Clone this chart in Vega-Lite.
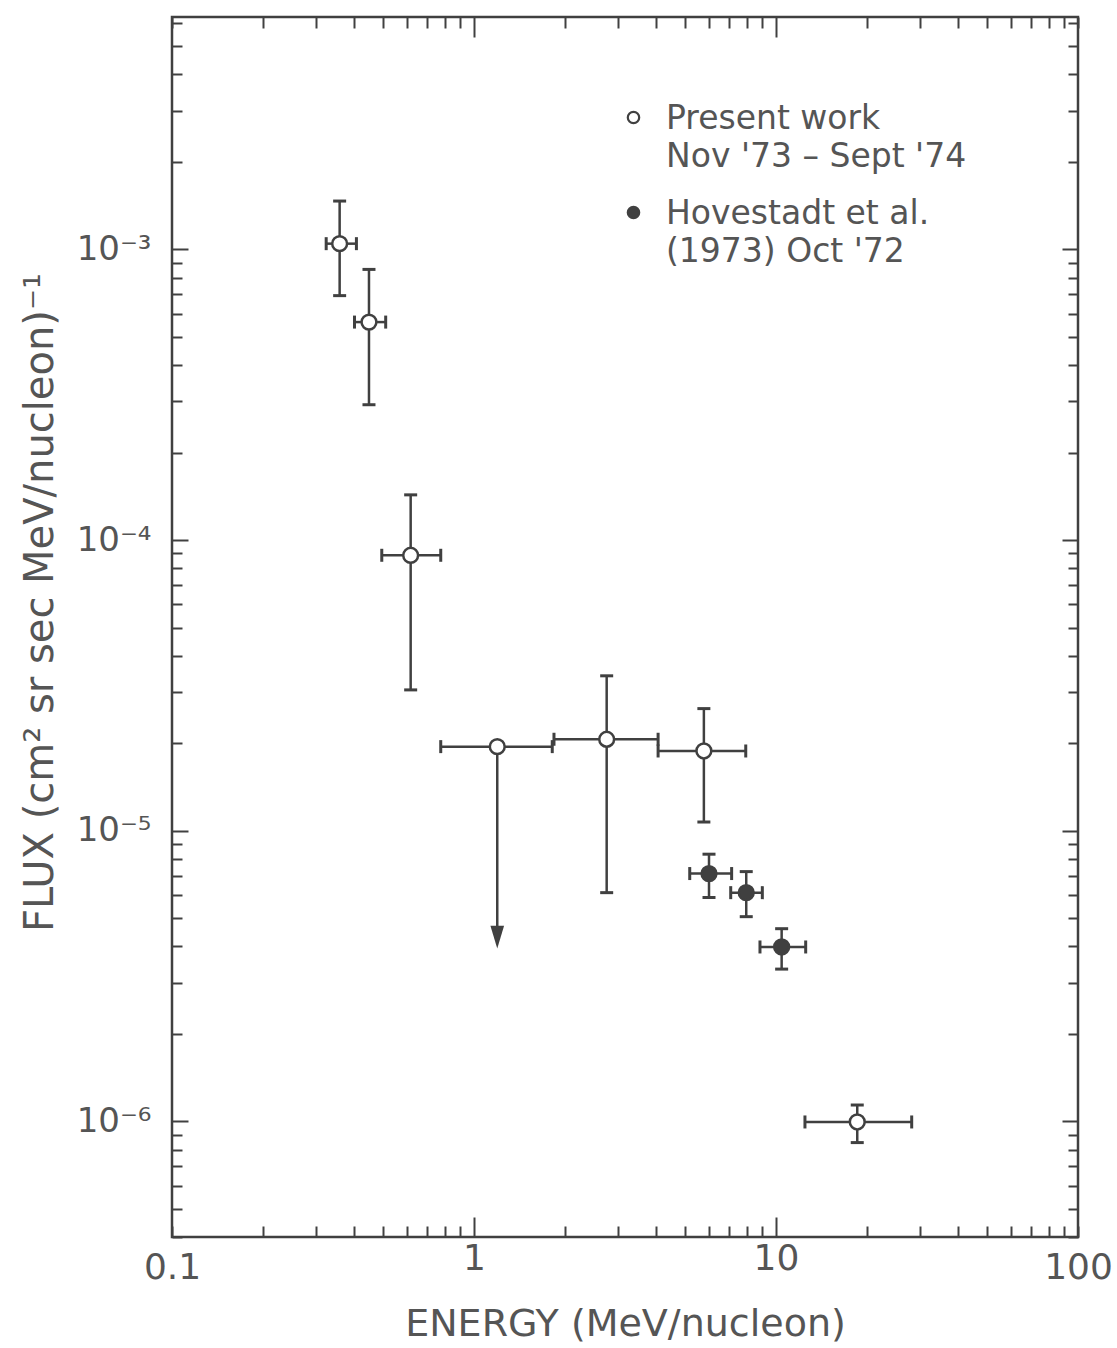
{
  "$schema": "https://vega.github.io/schema/vega-lite/v6.json",
  "width": 906,
  "height": 1220,
  "autosize": {"type": "none"},
  "padding": {"left": 172, "top": 17, "right": 39, "bottom": 111},
  "background": "white",
  "data": {
    "values": [
      {"series": "Present work", "e": 0.359, "elo": 0.324, "ehi": 0.408, "f": 0.001046, "flo": 0.000693, "fhi": 0.001466, "upperLimit": false},
      {"series": "Present work", "e": 0.449, "elo": 0.402, "ehi": 0.51, "f": 0.000562, "flo": 0.000292, "fhi": 0.000853, "upperLimit": false},
      {"series": "Present work", "e": 0.617, "elo": 0.495, "ehi": 0.776, "f": 0.0000886, "flo": 0.0000305, "fhi": 0.000143, "upperLimit": false},
      {"series": "Present work", "e": 1.194, "elo": 0.776, "ehi": 1.816, "f": 0.00001946, "flo": 0.0000043, "fhi": 0.00001946, "upperLimit": true},
      {"series": "Present work", "e": 2.75, "elo": 1.84, "ehi": 4.07, "f": 0.00002063, "flo": 0.00000612, "fhi": 0.0000341, "upperLimit": false},
      {"series": "Present work", "e": 5.77, "elo": 4.07, "ehi": 7.94, "f": 0.0000188, "flo": 0.00001071, "fhi": 0.0000263, "upperLimit": false},
      {"series": "Present work", "e": 18.58, "elo": 12.47, "ehi": 28.14, "f": 0.000000995, "flo": 0.000000845, "fhi": 0.000001138, "upperLimit": false},
      {"series": "Hovestadt et al.", "e": 6.0, "elo": 5.18, "ehi": 7.13, "f": 0.00000712, "flo": 0.00000589, "fhi": 0.0000083, "upperLimit": false},
      {"series": "Hovestadt et al.", "e": 7.97, "elo": 7.08, "ehi": 9.01, "f": 0.00000612, "flo": 0.00000506, "fhi": 0.00000723, "upperLimit": false},
      {"series": "Hovestadt et al.", "e": 10.44, "elo": 8.85, "ehi": 12.54, "f": 0.00000398, "flo": 0.00000334, "fhi": 0.0000046, "upperLimit": false}
    ]
  },
  "layer": [
    {
      "mark": {"type": "rule", "color": "#404040", "strokeWidth": 2.5},
      "encoding": {
        "x": {
          "field": "e", "type": "quantitative",
          "scale": {"type": "log", "domain": [0.1, 100], "nice": false, "zero": false},
          "axis": {
            "orient": "bottom",
            "values": [0.1,0.2,0.3,0.4,0.5,0.6,0.7,0.8,0.9,1,2,3,4,5,6,7,8,9,10,20,30,40,50,60,70,80,90,100],
            "tickSize": {"condition": {"test": "datum.value == 1 || datum.value == 10", "value": -20}, "value": -11},
            "labelExpr": "datum.value == 0.1 ? '0.1' : datum.value == 1 ? '1' : datum.value == 10 ? '10' : datum.value == 100 ? '100' : ''",
            "labelPadding": 39,
            "labelFontSize": 36,
            "labelOverlap": false,
            "labelFlush": false,
            "title": "ENERGY (MeV/nucleon)",
            "titleFontSize": 38,
            "titlePadding": 20
          }
        },
        "y": {
          "field": "flo", "type": "quantitative",
          "scale": {"type": "log", "domain": [0.0000004, 0.0063], "nice": false, "zero": false},
          "axis": {
            "orient": "left",
            "values": [0.0000004,0.0000005,0.0000006,0.0000007,0.0000008,0.0000009,0.000001,0.000002,0.000003,0.000004,0.000005,0.000006,0.000007,0.000008,0.000009,0.00001,0.00002,0.00003,0.00004,0.00005,0.00006,0.00007,0.00008,0.00009,0.0001,0.0002,0.0003,0.0004,0.0005,0.0006,0.0007,0.0008,0.0009,0.001,0.002,0.003,0.004,0.005,0.006],
            "tickSize": {"condition": {"test": "datum.value == 0.000001 || datum.value == 0.00001 || datum.value == 0.0001 || datum.value == 0.001", "value": -16}, "value": -10},
            "labelExpr": "datum.value == 0.000001 ? '10⁻⁶' : datum.value == 0.00001 ? '10⁻⁵' : datum.value == 0.0001 ? '10⁻⁴' : datum.value == 0.001 ? '10⁻³' : ''",
            "labelPadding": 37,
            "labelOffset": 15,
            "labelFontSize": 34,
            "labelOverlap": false,
            "labelFlush": false,
            "title": "FLUX (cm² sr sec MeV/nucleon)⁻¹",
            "titleFontSize": 40,
            "titlePadding": 16,
            "titleY": 585
          }
        },
        "y2": {"field": "fhi"}
      }
    },
    {
      "mark": {"type": "rule", "color": "#404040", "strokeWidth": 2.5},
      "encoding": {
        "x": {
          "field": "elo", "type": "quantitative",
          "axis": {
            "orient": "top",
            "values": [0.1,0.2,0.3,0.4,0.5,0.6,0.7,0.8,0.9,1,2,3,4,5,6,7,8,9,10,20,30,40,50,60,70,80,90,100],
            "tickSize": {"condition": {"test": "datum.value == 1 || datum.value == 10", "value": -20}, "value": -11},
            "labels": false,
            "title": null
          }
        },
        "x2": {"field": "ehi"},
        "y": {
          "field": "f", "type": "quantitative",
          "axis": {
            "orient": "right",
            "values": [0.0000004,0.0000005,0.0000006,0.0000007,0.0000008,0.0000009,0.000001,0.000002,0.000003,0.000004,0.000005,0.000006,0.000007,0.000008,0.000009,0.00001,0.00002,0.00003,0.00004,0.00005,0.00006,0.00007,0.00008,0.00009,0.0001,0.0002,0.0003,0.0004,0.0005,0.0006,0.0007,0.0008,0.0009,0.001,0.002,0.003,0.004,0.005,0.006],
            "tickSize": {"condition": {"test": "datum.value == 0.000001 || datum.value == 0.00001 || datum.value == 0.0001 || datum.value == 0.001", "value": -16}, "value": -10},
            "labels": false,
            "title": null
          }
        }
      }
    },
    {
      "transform": [{"filter": "!datum.upperLimit"}],
      "mark": {"type": "tick", "orient": "horizontal", "color": "#404040", "thickness": 3, "size": 13, "opacity": 1},
      "encoding": {
        "x": {"field": "e", "type": "quantitative", "axis": null},
        "y": {"field": "flo", "type": "quantitative", "axis": null}
      }
    },
    {
      "transform": [{"filter": "!datum.upperLimit"}],
      "mark": {"type": "tick", "orient": "horizontal", "color": "#404040", "thickness": 3, "size": 13, "opacity": 1},
      "encoding": {
        "x": {"field": "e", "type": "quantitative", "axis": null},
        "y": {"field": "fhi", "type": "quantitative", "axis": null}
      }
    },
    {
      "mark": {"type": "tick", "orient": "vertical", "color": "#404040", "thickness": 3, "size": 13, "opacity": 1},
      "encoding": {
        "x": {"field": "elo", "type": "quantitative", "axis": null},
        "y": {"field": "f", "type": "quantitative", "axis": null}
      }
    },
    {
      "mark": {"type": "tick", "orient": "vertical", "color": "#404040", "thickness": 3, "size": 13, "opacity": 1},
      "encoding": {
        "x": {"field": "ehi", "type": "quantitative", "axis": null},
        "y": {"field": "f", "type": "quantitative", "axis": null}
      }
    },
    {
      "transform": [{"filter": "datum.upperLimit"}],
      "mark": {"type": "point", "shape": "M-0.6,-1L0.6,-1L0,1Z", "filled": true, "color": "#404040", "size": 520, "opacity": 1},
      "encoding": {
        "x": {"field": "e", "type": "quantitative", "axis": null},
        "y": {"field": "flo", "type": "quantitative", "axis": null}
      }
    },
    {
      "mark": {"type": "point", "shape": "circle", "filled": true, "stroke": "#404040", "strokeWidth": 2.5, "size": 220, "opacity": 1},
      "encoding": {
        "x": {"field": "e", "type": "quantitative", "axis": null},
        "y": {"field": "f", "type": "quantitative", "axis": null},
        "fill": {
          "field": "series", "type": "nominal",
          "scale": {"domain": ["Present work", "Hovestadt et al."], "range": ["white", "#404040"]},
          "legend": {
            "orient": "none",
            "legendX": 445,
            "legendY": 84,
            "title": null,
            "symbolType": "circle",
            "symbolSize": 130,
            "symbolStrokeColor": "#404040",
            "symbolStrokeWidth": 2.2,
            "labelFontSize": 33,
            "labelColor": "#555",
            "labelFont": "DejaVu Sans",
            "labelLimit": 600,
            "labelOffset": 16,
            "labelBaseline": "top",
            "rowPadding": 22,
            "padding": 0,
            "labelExpr": "datum.value == 'Present work' ? ['Present work', \"Nov '73 – Sept '74\"] : ['Hovestadt et al.', \"(1973) Oct '72\"]"
          }
        }
      }
    }
  ],
  "resolve": {"axis": {"x": "independent", "y": "independent"}},
  "config": {
    "view": {"stroke": "#404040", "strokeWidth": 2.5},
    "axis": {
      "domain": false,
      "grid": false,
      "tickColor": "#404040",
      "tickWidth": 2,
      "labelColor": "#555",
      "titleColor": "#555",
      "labelFont": "DejaVu Sans",
      "titleFont": "DejaVu Sans",
      "titleFontWeight": "normal"
    },
    "style": {"guide-label": {"lineHeight": 38, "dy": -15}}
  }
}
